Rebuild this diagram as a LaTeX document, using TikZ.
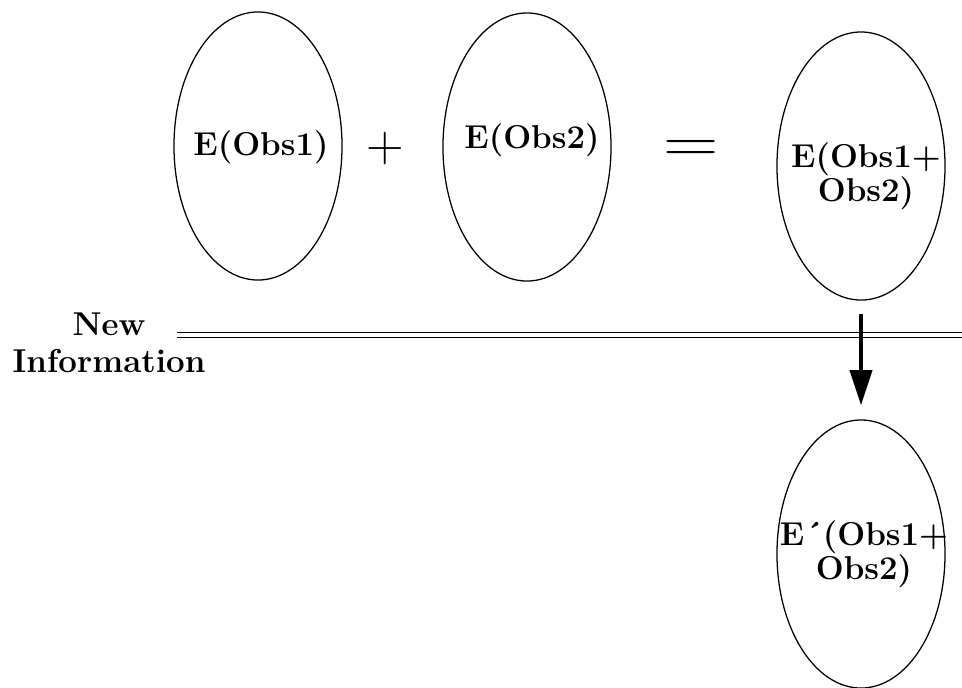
\documentclass[tikz,border=0pt]{standalone}
\usepackage{graphicx}
\usepackage{tikz}
\usetikzlibrary{arrows.meta, shapes.geometric, positioning}

\begin{document}
\begin{tikzpicture}[x=0.025cm, y=-0.025cm,
    obs/.style={ellipse, draw, line width=0.9pt, minimum width=4.2cm,
                minimum height=6.7cm, inner sep=0pt},
    txt/.style={font=\fontsize{23.5}{22}\selectfont\bfseries, align=center,
                inner sep=0pt}]
  \useasboundingbox (0,0) rectangle (962,687);
  % Estimates
  \node[obs] (obsA) at (258,146) {};
  \node[obs] (obsB) at (527,147) {};
  \node[obs] (obsSum) at (861,166) {};
  \node[obs] (obsNew) at (861,554) {};
  \node[txt, anchor=base] (txtA) at (261,155) {E(Obs1)};
  \node[txt, anchor=base] (txtB) at (532,148) {E(Obs2)};
  \node[txt] (txtSum) at (866,176) {E(Obs1+\\Obs2)};
  \node[txt] (txtNew) at (864,554) {E\'{}(Obs1+\\Obs2)};
  % Operators
  \node[font=\fontsize{37}{40}\selectfont, anchor=base, inner sep=0pt]
    (plus) at (385,161) {+};
  \node[font=\fontsize{44}{48}\selectfont, anchor=base, inner sep=0pt]
    (equals) at (691,162) {\scalebox{1.24}[1]{=}};
  % New information
  \node[txt, font=\fontsize{23.5}{26.3}\selectfont\bfseries]
    (newinfo) at (109,343) {New\\Information};
  \coordinate (lineL) at (177,335);
  \coordinate (lineR) at (962,335);
  \draw[double, double distance=2.8pt, line width=0.6pt] (lineL) -- (lineR);
  % Update
  \draw[-{Triangle[length=25pt, width=15.6pt]}, line width=2.8pt,
        shorten <=0.325cm, shorten >=0.35cm] (obsSum.south) -- (obsNew.north);
\end{tikzpicture}
\end{document}
